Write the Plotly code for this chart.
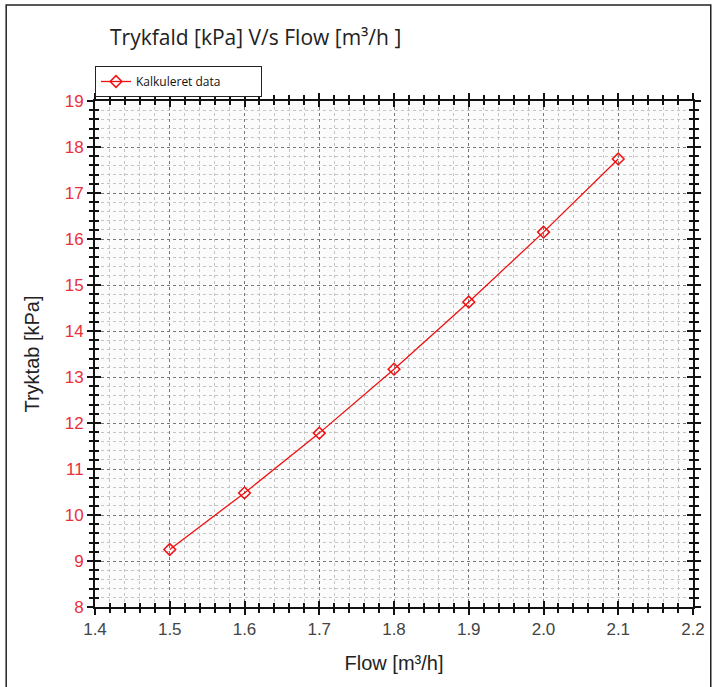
import plotly.graph_objects as go

flow = [1.5, 1.6, 1.7, 1.8, 1.9, 2.0, 2.1]
tryktab = [9.25, 10.48, 11.78, 13.17, 14.63, 16.15, 17.74]
series_name = "Kalkuleret data"
x_ticks = [1.4, 1.5, 1.6, 1.7, 1.8, 1.9, 2.0, 2.1, 2.2]
x_tick_labels = ["1.4", "1.5", "1.6", "1.7", "1.8", "1.9", "2.0", "2.1", "2.2"]
y_ticks = list(range(8, 20))

W, H = 717, 687
L, R, T, B = 95, 16, 101, 80
ph = H - T - B

fig = go.Figure()
fig.add_trace(go.Scatter(
    x=flow, y=tryktab, mode="lines+markers", name=series_name,
    line=dict(color="#f01010", width=1.3),
    marker=dict(symbol="diamond-open", size=9, color="#f01010", line=dict(width=1.5)),
))
# invisible trace to activate overlay axes for crossing ticks
fig.add_trace(go.Scatter(x=[1.4], y=[8], xaxis="x2", yaxis="y2", mode="markers",
                         marker=dict(opacity=0), showlegend=False, hoverinfo="skip"))

common_font = dict(family="Liberation Sans Narrow, Liberation Sans, Arial", size=17)

fig.update_layout(
    width=W, height=H,
    margin=dict(l=L, r=R, t=T, b=B),
    paper_bgcolor="white",
    plot_bgcolor="#fbfbfb",
    title=dict(text="Trykfald [kPa] V/s Flow [m³/h ]", x=110 / W, xanchor="left",
               y=1 - 38 / H, yanchor="middle",
               font=dict(family="Open Sans", size=21, color="#222")),
    showlegend=True,
    legend=dict(x=0, xanchor="left", y=1 + 4 / ph, yanchor="bottom",
                orientation="h",
                bordercolor="#222", borderwidth=1, bgcolor="white",
                font=dict(family="Open Sans", size=12, color="#111"),
                entrywidth=120, entrywidthmode="pixels",
                tracegroupgap=0),
    xaxis=dict(
        range=[1.4, 2.2], tickvals=x_ticks, ticktext=x_tick_labels,
        ticks="outside", ticklen=6, tickwidth=1.5, tickcolor="#111",
        showline=True, linecolor="#111", linewidth=2, mirror="ticks",
        showgrid=True, gridcolor="#777", griddash="dot", gridwidth=1,
        minor=dict(dtick=0.02, ticks="outside", ticklen=4, tickcolor="#111",
                   showgrid=True, gridcolor="#c4c4c4", griddash="dot", gridwidth=1),
        tickfont=dict(color="#444", **common_font),
        title=dict(text="Flow [m³/h]", font=dict(family="Liberation Sans", size=20, color="#222"),
                   standoff=18),
        zeroline=False,
    ),
    yaxis=dict(
        range=[8, 19], tickvals=y_ticks,
        ticks="outside", ticklen=6, tickwidth=1.5, tickcolor="#111",
        showline=True, linecolor="#111", linewidth=2, mirror="ticks",
        showgrid=True, gridcolor="#777", griddash="dot", gridwidth=1,
        minor=dict(dtick=0.2, ticks="outside", ticklen=4, tickcolor="#111",
                   showgrid=True, gridcolor="#c4c4c4", griddash="dot", gridwidth=1),
        tickfont=dict(color="#e8303a", **common_font),
        title=dict(text="Tryktab [kPa]", font=dict(family="Liberation Sans", size=20, color="#222"),
                   standoff=20),
        zeroline=False,
    ),
    xaxis2=dict(
        overlaying="x", range=[1.4, 2.2], tickvals=x_ticks, showticklabels=False,
        ticks="inside", ticklen=6, tickwidth=1.5, tickcolor="#111",
        minor=dict(dtick=0.02, ticks="inside", ticklen=4, tickcolor="#111"),
        showgrid=False, zeroline=False, showline=False, side="bottom", mirror="ticks",
    ),
    yaxis2=dict(
        overlaying="y", range=[8, 19], tickvals=y_ticks, showticklabels=False,
        ticks="inside", ticklen=6, tickwidth=1.5, tickcolor="#111",
        minor=dict(dtick=0.2, ticks="inside", ticklen=4, tickcolor="#111"),
        showgrid=False, zeroline=False, showline=False, side="left", mirror="ticks",
    ),
)

# outer frame of the figure
fig.add_shape(type="rect", xref="paper", yref="paper",
              x0=-(L - 5) / (W - L - R), x1=1 + (R + 2) / (W - L - R),
              y0=-(B + 2) / ph, y1=1 + (T - 5) / ph,
              line=dict(color="#222", width=1.5), fillcolor="rgba(0,0,0,0)", layer="below")

fig.write_html("out.html")
